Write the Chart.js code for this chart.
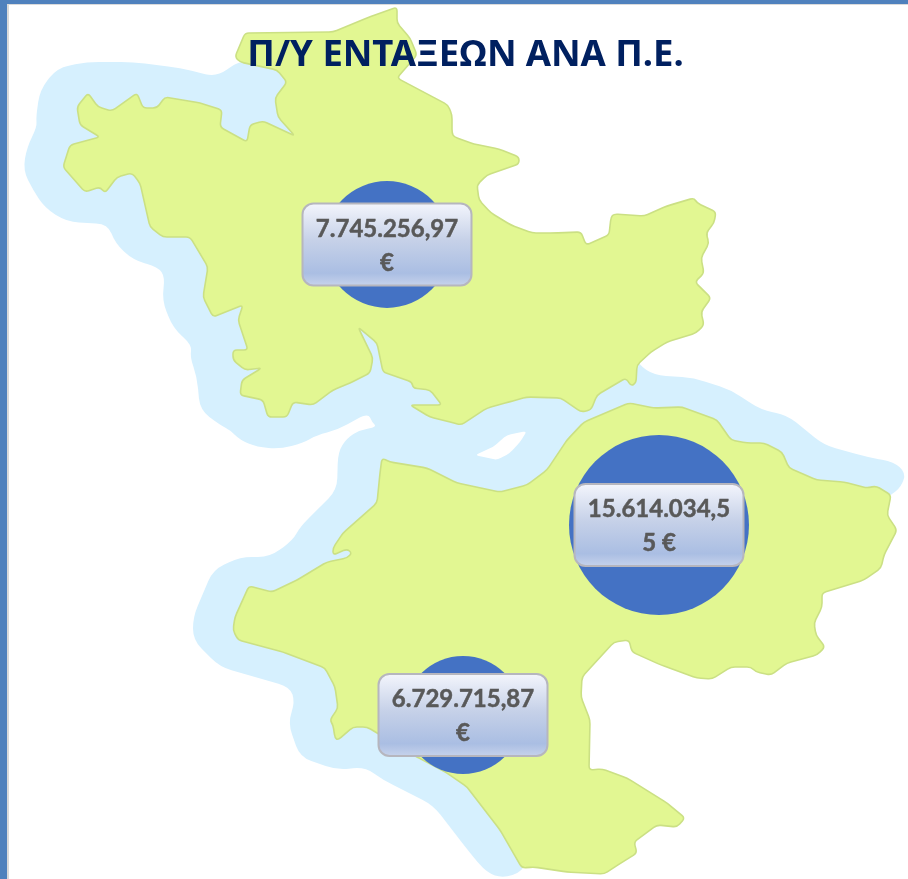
<!DOCTYPE html>
<html lang="el">
<head>
<meta charset="utf-8">
<title>Π/Υ ΕΝΤΑΞΕΩΝ ΑΝΑ Π.Ε.</title>
<style>html,body{margin:0;padding:0;background:#fff}canvas{display:block}</style>
<script src="https://cdn.jsdelivr.net/npm/chart.js@4"></script>
</head>
<body>
<canvas id="c" width="908" height="879"></canvas>
<script>
const chartTitle = 'Π/Υ ΕΝΤΑΞΕΩΝ ΑΝΑ Π.Ε.';
const budgetValues = [7745256.97, 15614034.55, 6729715.87];
const bubbleX = [387, 659, 463];
const bubbleY = [244.5, 525, 715];
const valueLabels = [['7.745.256,97', '€'], ['15.614.034,5', '5 €'], ['6.729.715,87', '€']];

const mapNorth = [[397,7],[397,23],[410,38],[417,55],[397,78],[448,105],[452,115],[452,133],[454,137],[474,144],[499,149],[519,157],[519,164],[487,175],[477,185],[479,200],[491,213],[511,225],[532,233],[554,233],[581,232],[586,245],[609,235],[611,217],[614,214],[644,216],[667,206],[694,198],[697,203],[716,212],[714,223],[706,233],[709,243],[701,258],[704,273],[695,282],[711,298],[701,312],[704,325],[696,333],[667,342],[651,352],[637,365],[636,383],[631,386],[626,378],[597,395],[591,410],[581,412],[561,398],[527,397],[509,402],[487,408],[461,425],[454,423],[430,417],[410,405],[442,405],[430,390],[413,388],[412,382],[383,372],[377,343],[358,327],[373,358],[370,373],[350,383],[333,390],[313,405],[293,402],[287,417],[268,417],[263,400],[240,395],[242,380],[262,368],[245,370],[233,360],[233,350],[248,350],[238,320],[243,305],[213,317],[203,297],[208,267],[190,237],[163,237],[150,227],[140,183],[132,173],[117,177],[105,193],[100,187],[85,192],[63,167],[70,145],[100,137],[80,125],[77,107],[88,93],[98,107],[112,111],[137,93],[143,108],[157,108],[165,97],[200,103],[222,110],[220,127],[247,142],[250,125],[263,121],[295,136],[278,117],[275,98],[287,82],[277,70],[240,62],[235,57],[245,33],[333,32],[367,18]];
const mapSouth = [[382,458],[390,462],[427,468],[457,483],[500,492],[527,485],[547,470],[567,440],[584,422],[629,403],[654,408],[682,407],[717,420],[731,440],[747,443],[764,443],[782,452],[789,468],[817,480],[844,482],[867,488],[876,486],[891,495],[887,515],[897,530],[884,555],[881,568],[864,580],[822,593],[822,607],[814,623],[816,635],[825,647],[817,655],[787,663],[771,675],[756,672],[751,667],[731,667],[712,679],[697,678],[661,665],[632,652],[629,640],[614,642],[582,677],[581,697],[590,720],[589,770],[602,769],[627,778],[667,803],[685,818],[677,827],[657,825],[634,842],[637,853],[621,863],[604,874],[567,872],[534,867],[522,868],[500,830],[467,787],[447,773],[417,757],[367,727],[353,727],[338,740],[335,738],[333,725],[330,720],[338,708],[335,687],[325,668],[283,652],[238,640],[233,630],[235,617],[249,586],[272,592],[297,580],[327,562],[347,558],[352,553],[347,549],[333,555],[333,548],[343,533],[377,503],[380,473]];
const seaHalo = [[240,60],[217,77],[180,68],[133,62],[87,62],[57,68],[40,90],[36,117],[37,127],[27,147],[23,170],[33,190],[45,208],[67,222],[108,224],[115,243],[133,260],[158,267],[165,277],[162,300],[173,328],[192,345],[190,357],[197,377],[200,410],[220,425],[230,430],[240,440],[257,447],[280,449],[303,443],[317,435],[337,430],[368,413],[372,422],[377,427],[360,430],[347,438],[338,452],[337,490],[300,527],[293,540],[270,557],[240,557],[213,570],[193,617],[193,640],[220,667],[290,687],[295,702],[288,723],[300,757],[337,770],[365,767],[383,780],[433,805],[470,853],[487,873],[503,878],[522,872],[560,800],[560,680],[590,640],[700,620],[891,495],[901,487],[906,473],[894,462],[867,457],[824,445],[787,415],[761,410],[731,390],[694,378],[654,375],[639,365],[600,300],[440,200],[350,120],[300,100],[300,70]];
const seaGap = [[527,431],[507,435],[493,447],[475,455],[497,460],[510,453],[520,442]];

const bubbleScale = 90 / Math.sqrt(15614034.55);

const mapPlugin = {
  id: 'mapBackdrop',
  beforeDraw(chart) {
    const { ctx, scales: { x, y } } = chart;
    const trace = (pts, cut) => {
      const P = pts.map(p => [x.getPixelForValue(p[0]), y.getPixelForValue(p[1])]);
      const n = P.length;
      const toward = (a, b) => {
        const d = Math.hypot(b[0] - a[0], b[1] - a[1]) || 1, t = Math.min(0.5, cut / d);
        return [a[0] + (b[0] - a[0]) * t, a[1] + (b[1] - a[1]) * t];
      };
      ctx.beginPath();
      P.forEach((p, i) => {
        const a = toward(p, P[(i + n - 1) % n]), b = toward(p, P[(i + 1) % n]);
        if (i) ctx.lineTo(a[0], a[1]); else ctx.moveTo(a[0], a[1]);
        ctx.quadraticCurveTo(p[0], p[1], b[0], b[1]);
      });
      ctx.closePath();
    };
    ctx.save();
    ctx.fillStyle = '#fff';
    ctx.fillRect(0, 0, chart.width, chart.height);
    ctx.fillStyle = '#D6F0FE';
    trace(seaHalo, 12); ctx.fill();
    ctx.fillStyle = '#fff';
    trace(seaGap, 4); ctx.fill();
    ctx.lineJoin = 'round';
    [mapNorth, mapSouth].forEach(m => {
      trace(m, 4);
      ctx.fillStyle = '#E2F792';
      ctx.fill();
      ctx.strokeStyle = '#CBE084';
      ctx.lineWidth = 1.6;
      ctx.stroke();
    });
    ctx.fillStyle = '#4F81BD';
    ctx.fillRect(0, 0, 7, chart.height);
    ctx.fillRect(0, 0, chart.width, 4);
    ctx.fillStyle = '#DADADA';
    ctx.fillRect(7, 4, 2, chart.height);
    ctx.fillRect(7, 4, chart.width, 1);
    ctx.restore();
  }
};

const labelPlugin = {
  id: 'valueCallouts',
  afterDatasetsDraw(chart) {
    const { ctx } = chart;
    const W = 169, H = 82;
    chart.getDatasetMeta(0).data.forEach((el, i) => {
      const l = el.x - W / 2, t = el.y - H / 2;
      const g = ctx.createLinearGradient(0, t, 0, t + H);
      g.addColorStop(0, '#F3F5FC');
      g.addColorStop(0.45, '#C6D1E8');
      g.addColorStop(0.85, '#AABEE3');
      g.addColorStop(1, '#C6D2EB');
      ctx.save();
      ctx.beginPath();
      ctx.roundRect(l, t, W, H, 11);
      ctx.fillStyle = g;
      ctx.fill();
      ctx.lineWidth = 2;
      ctx.strokeStyle = '#B6B6BE';
      ctx.stroke();
      ctx.fillStyle = '#595959';
      ctx.strokeStyle = '#595959';
      ctx.lineWidth = 0.5;
      ctx.font = 'bold 24px Lato, "Open Sans", sans-serif';
      ctx.textAlign = 'center';
      ctx.textBaseline = 'middle';
      valueLabels[i].forEach((line, k) => {
        const ty = el.y + (k ? 18.5 : -15.5);
        ctx.fillText(line, el.x, ty);
        ctx.strokeText(line, el.x, ty);
      });
      ctx.restore();
    });
  }
};

new Chart(document.getElementById('c'), {
  type: 'bubble',
  data: {
    datasets: [{
      label: 'Π/Υ ΕΝΤΑΞΕΩΝ',
      data: budgetValues.map((v, i) => ({ x: bubbleX[i], y: bubbleY[i], r: Math.sqrt(v) * bubbleScale })),
      backgroundColor: '#4472C4',
      borderWidth: 0,
      hoverRadius: 0,
      clip: false
    }]
  },
  options: {
    responsive: false,
    animation: false,
    events: [],
    layout: { autoPadding: false, padding: { left: 23, right: 0, top: 0, bottom: 0 } },
    scales: {
      x: { type: 'linear', display: false, min: 23, max: 908 },
      y: { type: 'linear', display: false, reverse: true, min: 80, max: 879 }
    },
    plugins: {
      legend: { display: false },
      tooltip: { enabled: false },
      title: {
        display: true,
        text: chartTitle,
        color: '#002060',
        font: { family: '"Noto Sans", "Open Sans", sans-serif', size: 36.5, weight: 'bold', lineHeight: 1 },
        padding: { top: 37, bottom: 6.5 }
      }
    }
  },
  plugins: [mapPlugin, labelPlugin]
});
</script>
</body>
</html>
